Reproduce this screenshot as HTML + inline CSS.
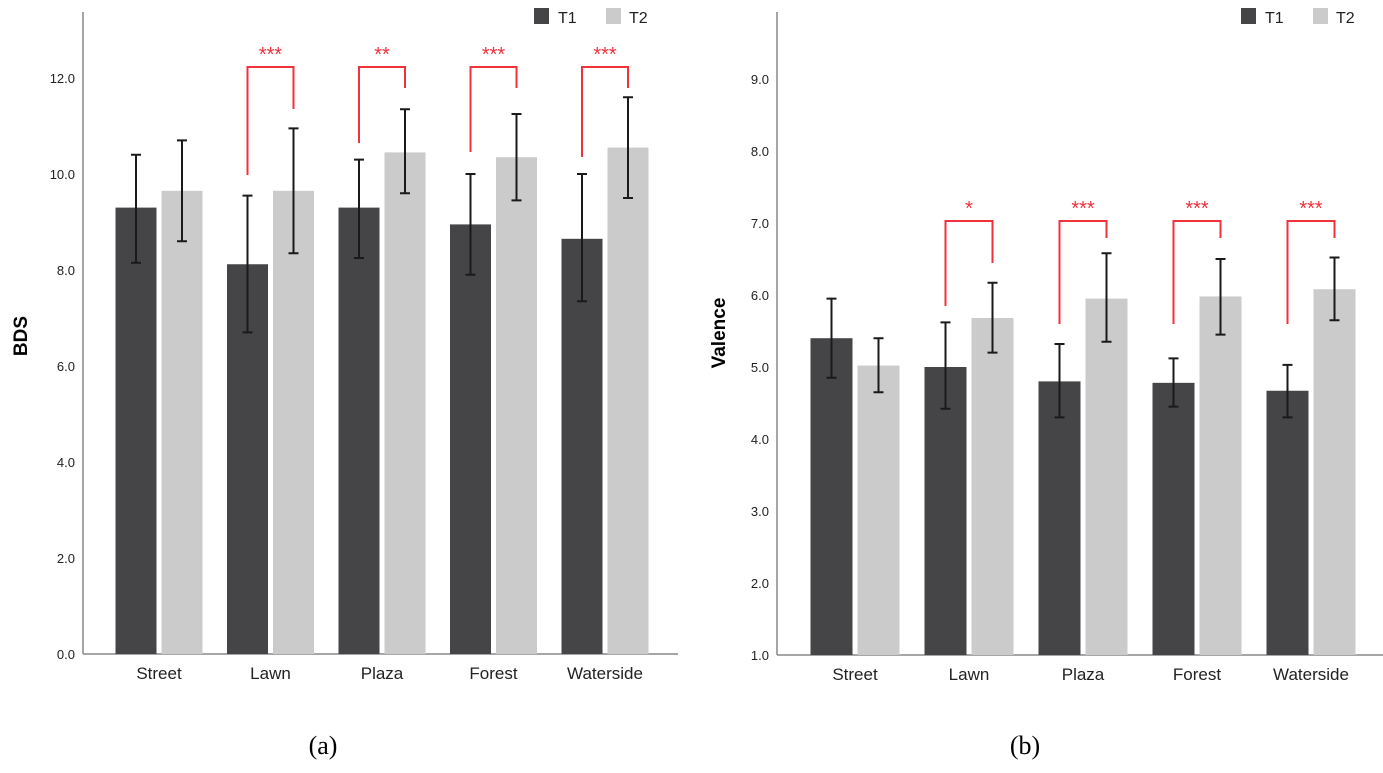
<!DOCTYPE html>
<html><head><meta charset="utf-8"><style>
body{margin:0;background:#fff;width:1383px;height:768px;overflow:hidden}
svg{font-family:"Liberation Sans",sans-serif}
</style></head><body>
<svg id="s" width="1383" height="768">
<text x="323" y="754" font-family="Liberation Serif,serif" font-size="26" text-anchor="middle">(a)</text>
<text x="1025" y="754" font-family="Liberation Serif,serif" font-size="26" text-anchor="middle">(b)</text>
</svg>
<script>
const categories=["Street","Lawn","Plaza","Forest","Waterside"];
const bdsT1=[9.3,8.12,9.3,8.95,8.65];
const bdsT2=[9.65,9.65,10.45,10.35,10.55];
const bdsT1Lo=[8.15,6.7,8.25,7.9,7.35];
const bdsT1Hi=[10.4,9.55,10.3,10.0,10.0];
const bdsT2Lo=[8.6,8.35,9.6,9.45,9.5];
const bdsT2Hi=[10.7,10.95,11.35,11.25,11.6];
const bdsSig=["","***","**","***","***"];
const bdsTicks=[0,2,4,6,8,10,12];
const valT1=[5.4,5.0,4.8,4.78,4.67];
const valT2=[5.02,5.68,5.95,5.98,6.08];
const valT1Lo=[4.85,4.42,4.3,4.45,4.3];
const valT1Hi=[5.95,5.62,5.32,5.12,5.03];
const valT2Lo=[4.65,5.2,5.35,5.45,5.65];
const valT2Hi=[5.4,6.17,6.58,6.5,6.52];
const valSig=["","*","***","***","***"];
const valTicks=[1,2,3,4,5,6,7,8,9];

const S=document.getElementById('s');const NS="http://www.w3.org/2000/svg";
function mk(t,a,txt){const e=document.createElementNS(NS,t);for(const k in a)e.setAttribute(k,a[k]);if(txt!==undefined)e.textContent=txt;S.appendChild(e);return e;}

function chart(p){
  const y=v=>p.y0-(v-p.vmin)*p.ppu;
  const pre=p.id;
  let e;
  e=mk('line',{x1:p.ax,y1:12,x2:p.ax,y2:p.y0,stroke:'#888','stroke-width':1.5});
  
  
  e=mk('line',{x1:p.ax,y1:p.y0,x2:p.axEnd,y2:p.y0,stroke:'#888','stroke-width':1.5});
  
  
  p.ticks.forEach(t=>{
    e=mk('text',{x:p.ax-8,y:y(t)+5,'font-size':13,fill:'#222','text-anchor':'end'},t.toFixed(1));
    
    
  });
  e=mk('text',{x:0,y:0,'font-size':19,'font-weight':'bold','text-anchor':'middle',transform:`translate(${p.titleX},${p.titleY}) rotate(-90)`},p.title);
  
  
  categories.forEach((c,i)=>{
    const cx=p.c0+i*p.step;
    const x1=cx-p.bw-2.5, x2=cx+2.5;
    const c1=x1+p.bw/2, c2=x2+p.bw/2;
    e=mk('rect',{x:x1,y:y(p.t1[i]),width:p.bw,height:p.y0-y(p.t1[i]),fill:'#454547'});
    
    
    e=mk('rect',{x:x2,y:y(p.t2[i]),width:p.bw,height:p.y0-y(p.t2[i]),fill:'#cbcbcb'});
    
    
    [[c1,p.l1[i],p.h1[i]],[c2,p.l2[i],p.h2[i]]].forEach(([ex,lo,hi])=>{
      const g=mk('path',{d:`M${ex},${y(lo)}V${y(hi)}M${ex-5},${y(lo)}H${ex+5}M${ex-5},${y(hi)}H${ex+5}`,stroke:'#1a1a1a','stroke-width':2,fill:'none'});
      
      
    });
    e=mk('text',{x:cx,y:p.y0+25,'font-size':17,fill:'#222','text-anchor':'middle'},c);
    
    
    if(p.sig[i]){
      const lb=p.legL[i], rb=p.legR;
      e=mk('path',{d:`M${c1},${lb}V${p.brTop}H${c2}V${rb[i]}`,stroke:'#f0323c','stroke-width':2,fill:'none'});
      
      
      e=mk('text',{x:(c1+c2)/2,y:p.brTop-6,'font-size':20,fill:'#f0323c','text-anchor':'middle'},p.sig[i]);
      
      
    }
  });
  e=mk('rect',{x:p.lx,y:8,width:15,height:16,fill:'#454547'});
  
  
  e=mk('text',{x:p.lx+24,y:23,'font-size':16,fill:'#222'},'T1');
  
  
  e=mk('rect',{x:p.lx+72,y:8,width:15,height:16,fill:'#cbcbcb'});
  
  
  e=mk('text',{x:p.lx+95,y:23,'font-size':16,fill:'#222'},'T2');
  
  
}
chart({id:'bds',ax:83,axEnd:678,y0:654,vmin:0,ppu:48,ticks:bdsTicks,title:'BDS',titleX:27,titleY:336,
  c0:159,step:111.5,bw:41,t1:bdsT1,t2:bdsT2,l1:bdsT1Lo,h1:bdsT1Hi,l2:bdsT2Lo,h2:bdsT2Hi,sig:bdsSig,
  brTop:67,legL:[0,175,143,152,157],legR:[0,109,88,88,88],lx:534});
chart({id:'valence',ax:777,axEnd:1383,y0:655,vmin:1,ppu:72,ticks:valTicks,title:'Valence',titleX:725,titleY:333,
  c0:855,step:114,bw:42,t1:valT1,t2:valT2,l1:valT1Lo,h1:valT1Hi,l2:valT2Lo,h2:valT2Hi,sig:valSig,
  brTop:221,legL:[0,306,324,324,324],legR:[0,263,238,238,238],lx:1241});
</script>
</body></html>
